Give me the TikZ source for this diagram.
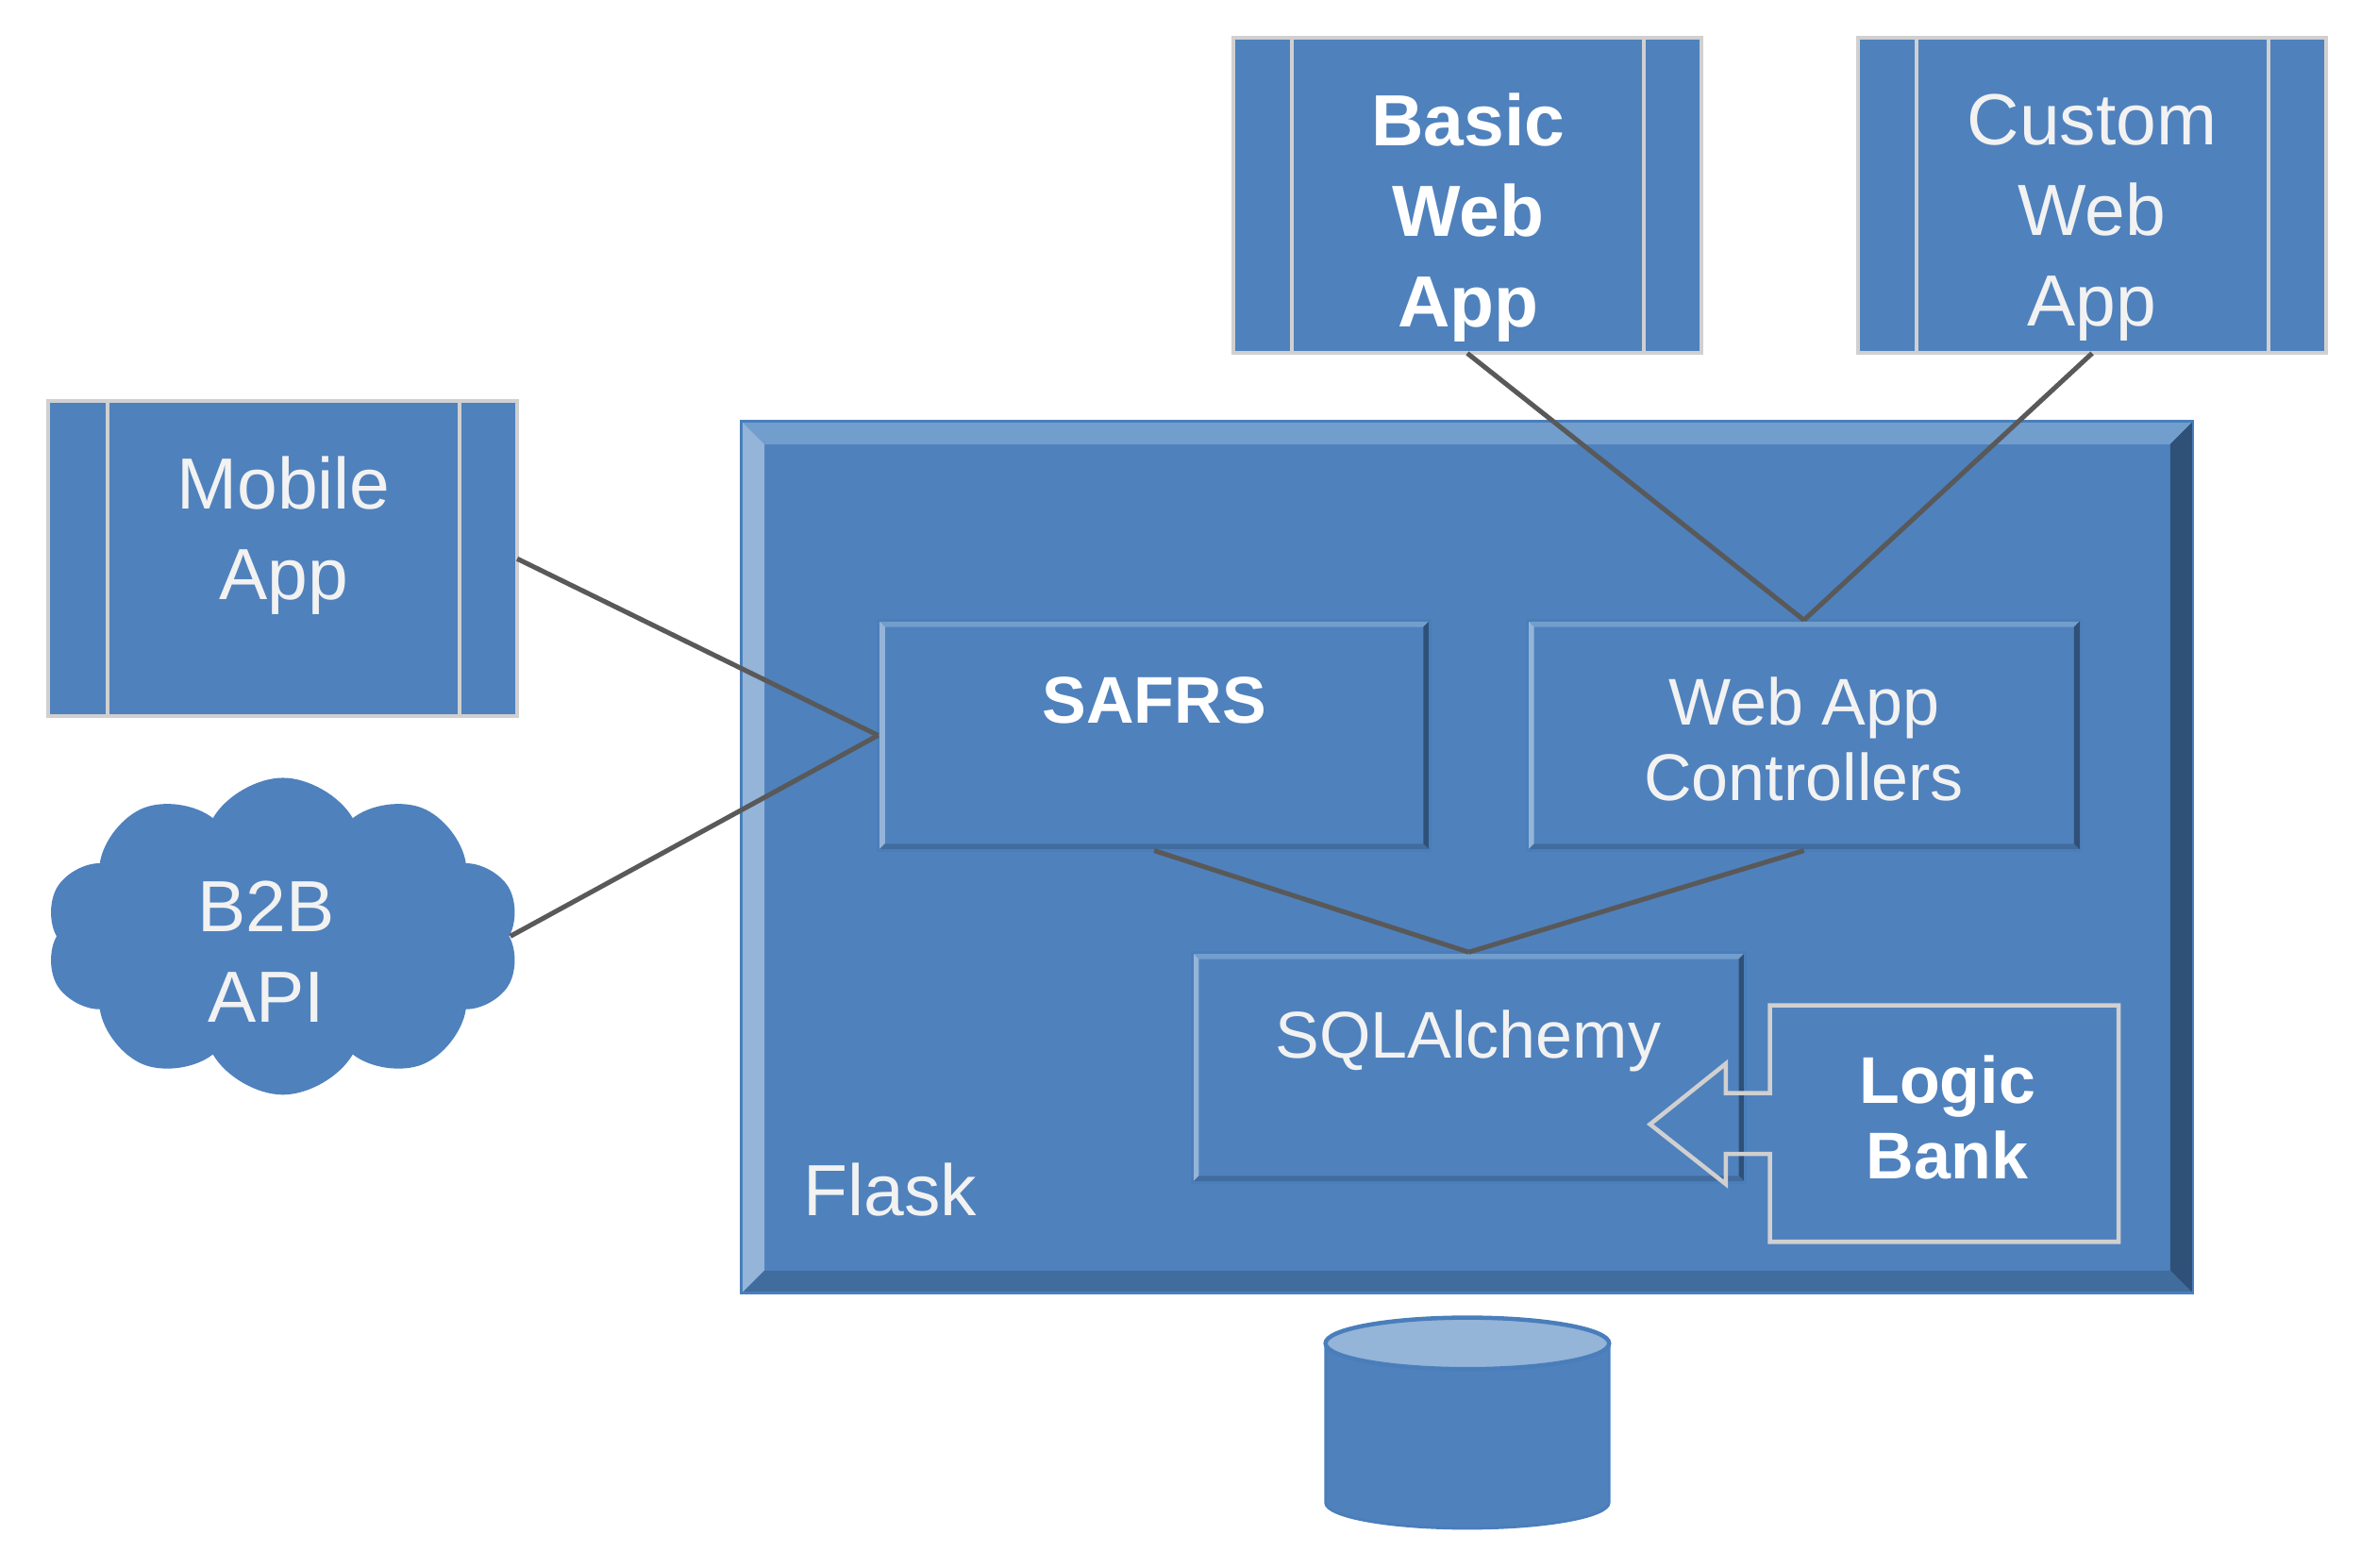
\documentclass[tikz,border=0pt]{standalone}
\usepackage{fontspec}
\setmainfont{Liberation Sans}
\usetikzlibrary{shapes.symbols}

\definecolor{boxblue}{HTML}{4F81BD}
\definecolor{edgeblue}{HTML}{4A7EBB}
\definecolor{toplight}{HTML}{729ECD}
\definecolor{leftlight}{HTML}{94B4D8}
\definecolor{rightdark}{HTML}{2F5077}
\definecolor{bottomdark}{HTML}{416C9E}
\definecolor{appedge}{HTML}{D0D0D0}
\definecolor{wire}{HTML}{595959}
\definecolor{textwhite}{HTML}{F2F2F2}

\newcommand{\bigtext}{\fontsize{13.6}{17}\selectfont}
\newcommand{\smalltext}{\fontsize{12.4}{14.3}\selectfont}

\tikzset{
  bevel/.style={fill=boxblue, draw=edgeblue, line width=0.5pt, inner sep=0pt, outer sep=0pt,
    path picture={
      \fill[toplight] (path picture bounding box.north west) -- (path picture bounding box.north east)
        -- ([shift={(-#1,-#1)}]path picture bounding box.north east) -- ([shift={(#1,-#1)}]path picture bounding box.north west) -- cycle;
      \fill[leftlight] (path picture bounding box.north west) -- ([shift={(#1,-#1)}]path picture bounding box.north west)
        -- ([shift={(#1,#1)}]path picture bounding box.south west) -- (path picture bounding box.south west) -- cycle;
      \fill[rightdark] (path picture bounding box.north east) -- (path picture bounding box.south east)
        -- ([shift={(-#1,#1)}]path picture bounding box.south east) -- ([shift={(-#1,-#1)}]path picture bounding box.north east) -- cycle;
      \fill[bottomdark] (path picture bounding box.south west) -- (path picture bounding box.south east)
        -- ([shift={(-#1,#1)}]path picture bounding box.south east) -- ([shift={(#1,#1)}]path picture bounding box.south west) -- cycle;
    }},
  app/.style={fill=boxblue, draw=appedge, line width=0.7pt, inner sep=0pt, outer sep=0pt,
    minimum width=3.09cm, minimum height=2.08cm,
    path picture={
      \draw[appedge, line width=0.7pt] ([xshift=0.39cm]path picture bounding box.north west) -- ([xshift=0.39cm]path picture bounding box.south west);
      \draw[appedge, line width=0.7pt] ([xshift=-0.38cm]path picture bounding box.north east) -- ([xshift=-0.38cm]path picture bounding box.south east);
    }},
  label/.style={text=textwhite, inner sep=0pt, align=center},
  wireline/.style={draw=wire, line width=0.9pt}
}

\begin{document}
\begin{tikzpicture}
    \useasboundingbox (0,0) rectangle (15.68,10.34);

    \node[bevel=0.15cm, minimum width=9.57cm, minimum height=5.75cm] (flask) at (9.675,4.685) {};
    \node[label, anchor=base west, font=\bigtext] (flask-t) at (5.29,2.32) {Flask};

    \node[bevel=0.045cm, minimum width=3.64cm, minimum height=1.52cm] (safrs) at (7.61,5.49) {};
    \node[label, font=\smalltext\bfseries, text=white] (safrs-t) at (7.61,5.72) {SAFRS};
    \node[bevel=0.045cm, minimum width=3.65cm, minimum height=1.52cm] (webctl) at (11.895,5.49) {};
    \node[label, font=\smalltext] (webctl-t) at (11.895,5.465) {Web App\\Controllers};
    \node[bevel=0.045cm, minimum width=3.65cm, minimum height=1.52cm] (sqla) at (9.685,3.30) {};
    \node[label, font=\smalltext] (sqla-t) at (9.68,3.475) {SQLAlchemy};

    \node[app] (basic) at (9.675,9.05) {};
    \node[label, font=\bigtext\bfseries, text=white] (basic-t) at (9.68,8.905) {Basic\\Web\\App};
    \node[app] (custom) at (13.795,9.05) {};
    \node[label, font=\bigtext] (custom-t) at (13.795,8.905) {Custom\\Web\\App};
    \node[app] (mobile) at (1.865,6.655) {};
    \node[label, font=\bigtext] (mobile-t) at (1.87,6.81) {Mobile\\App};

    \node[cloud, cloud puffs=10, cloud puff arc=120, aspect=1.5, fill=boxblue, inner sep=0pt,
      minimum width=3.13cm, minimum height=2.09cm] (b2b) at (1.865,4.165) {};
    \node[label, font=\bigtext] (b2b-t) at (1.755,4.065) {B2B\\API};

    % logic bank pushes into sqlalchemy
    \node[inner sep=0pt, minimum width=2.30cm, minimum height=1.56cm] (logic) at (12.82,2.93) {};
    \draw[appedge, line width=0.8pt] (11.67,3.13) -- (11.67,3.71) -- (13.97,3.71) -- (13.97,2.15)
      -- (11.67,2.15) -- (11.67,2.73) -- (11.38,2.73) -- (11.38,2.53) -- (10.88,2.925)
      -- (11.38,3.325) -- (11.38,3.13) -- cycle;
    \node[label, font=\smalltext\bfseries, text=white] (logic-t) at (12.84,2.97) {Logic\\Bank};

    % database
    \filldraw[fill=boxblue, draw=edgeblue, line width=0.5pt] (8.74,1.48) -- (8.74,0.43)
      arc[start angle=180, end angle=360, x radius=0.935, y radius=0.17] -- (10.61,1.48) -- cycle;
    \filldraw[fill=leftlight, draw=edgeblue, line width=0.8pt] (9.675,1.48) ellipse [x radius=0.935, y radius=0.17];

    \draw[wireline] (basic.south) -- (webctl.north);
    \draw[wireline] (custom.south) -- (webctl.north);
    \draw[wireline] (mobile.east) -- (safrs.west);
    \draw[wireline] (b2b.east) -- (safrs.west);
    \draw[wireline] (safrs.south) -- (sqla.north);
    \draw[wireline] (webctl.south) -- (sqla.north);

\end{tikzpicture}
\end{document}
